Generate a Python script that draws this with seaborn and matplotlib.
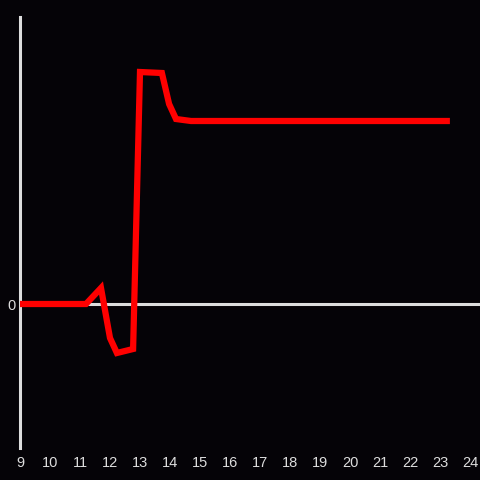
import matplotlib
matplotlib.use("Agg")
import matplotlib.pyplot as plt
import seaborn as sns
import pandas as pd

x_vals = [9.0, 11.2, 11.7, 12.0, 12.23, 12.77, 13.0, 13.73, 13.97, 14.2, 14.7, 23.33]
y_vals = [0.0, 0.0, 1.6, -3.4, -4.9, -4.5, 23.2, 23.1, 20.0, 18.5, 18.3, 18.3]
x_ticks = list(range(9, 25))

bg = "#050307"
fg = "#dddddd"

sns.set_theme(style="dark")
plt.rcParams["font.family"] = ["Liberation Sans", "DejaVu Sans"]

fig = plt.figure(figsize=(4.8, 4.8), dpi=100, facecolor=bg)
ax = fig.add_axes([20/480, 32/480, 460/480, 431/480])
ax.set_facecolor(bg)

df = pd.DataFrame({"x": x_vals, "y": y_vals})
ax.axhline(0, color=fg, lw=2.2, zorder=1)
sns.lineplot(data=df, x="x", y="y", ax=ax, color="#ff0000", lw=4.5, zorder=3,
             sort=False, solid_capstyle="butt", solid_joinstyle="miter")

ax.set_xlim(9, 9 + 460/30)
ax.set_ylim(-14.4, 28.7)
ax.set_xticks(x_ticks)
ax.set_xticklabels([str(t) for t in x_ticks])
ax.set_yticks([0])
ax.set_yticklabels(["0"])
ax.tick_params(axis="both", length=0, colors=fg, labelsize=10.5)
ax.tick_params(axis="x", pad=6)
ax.tick_params(axis="y", pad=3)
ax.set_xlabel("")
ax.set_ylabel("")
ax.grid(False)
for s in ["top", "right", "bottom"]:
    ax.spines[s].set_visible(False)
ax.spines["left"].set_color(fg)
ax.spines["left"].set_linewidth(2.2)

fig.savefig("out.png", dpi=100, facecolor=bg)
